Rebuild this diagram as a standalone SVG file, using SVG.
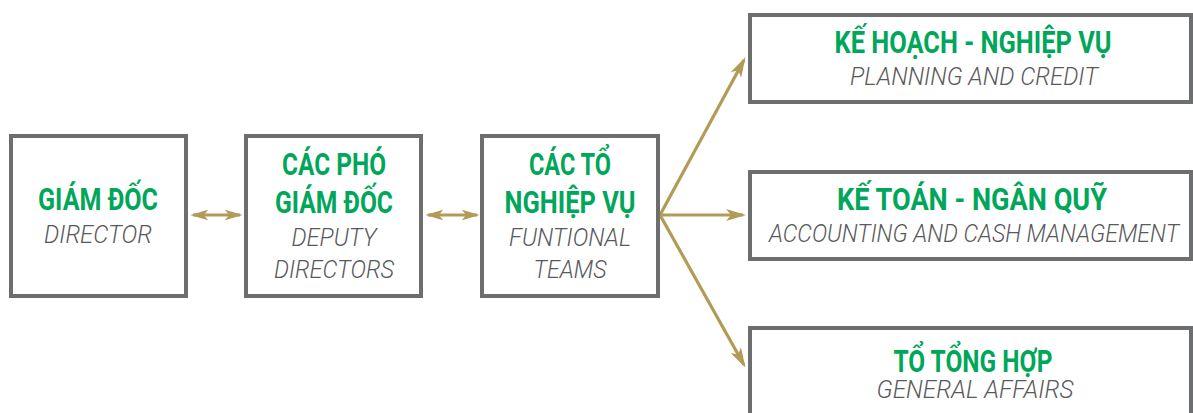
<svg xmlns="http://www.w3.org/2000/svg" width="1193" height="413" viewBox="0 0 1193 413">
  <style>
    .box { fill: #ffffff; stroke: #6d6e70; stroke-width: 4; }
    .title { font-family: Roboto, "Liberation Sans", sans-serif; font-weight: 700; font-size: 32px; fill: #00a65a; text-anchor: middle; }
    .sub { font-family: Roboto, "Liberation Sans", sans-serif; font-weight: 300; font-style: italic; font-size: 26px; fill: #58595b; text-anchor: middle; }
    .link { fill: none; stroke: #b29a57; stroke-width: 3.2; }
  </style>
  <defs>
    <marker id="head" viewBox="0 0 20 12" refX="17" refY="6" markerWidth="20" markerHeight="12" markerUnits="userSpaceOnUse" orient="auto-start-reverse">
      <path d="M0,0 L20,6 L0,12 L5,6 Z" fill="#b29a57"/>
    </marker>
    <marker id="headSmall" viewBox="0 0 20 12" refX="17" refY="6" markerWidth="18" markerHeight="12" markerUnits="userSpaceOnUse" orient="auto-start-reverse">
      <path d="M0,0 L20,6 L0,12 L5,6 Z" fill="#b29a57"/>
    </marker>
  </defs>

  <g id="connectors">
    <line class="link" x1="193" y1="215" x2="240" y2="215" marker-start="url(#headSmall)" marker-end="url(#headSmall)"/>
    <line class="link" x1="428" y1="215" x2="477" y2="215" marker-start="url(#headSmall)" marker-end="url(#headSmall)"/>
    <line class="link" x1="660" y1="215" x2="744" y2="60" marker-end="url(#head)"/>
    <line class="link" x1="660" y1="215" x2="743" y2="215" marker-end="url(#head)"/>
    <line class="link" x1="660" y1="215" x2="744" y2="365" marker-end="url(#head)"/>
  </g>

  <g id="director">
    <rect class="box" x="11" y="136" width="175" height="160"/>
    <text class="title" x="98" y="210" textLength="120" lengthAdjust="spacingAndGlyphs">GIÁM ĐỐC</text>
    <text class="sub" x="98" y="243" textLength="108" lengthAdjust="spacingAndGlyphs">DIRECTOR</text>
  </g>

  <g id="deputy-directors">
    <rect class="box" x="246" y="136" width="175" height="160"/>
    <text class="title" x="334" y="175" textLength="104" lengthAdjust="spacingAndGlyphs">CÁC PHÓ</text>
    <text class="title" x="334" y="213" textLength="118" lengthAdjust="spacingAndGlyphs">GIÁM ĐỐC</text>
    <text class="sub" x="334" y="246" textLength="85" lengthAdjust="spacingAndGlyphs">DEPUTY</text>
    <text class="sub" x="334" y="278" textLength="120" lengthAdjust="spacingAndGlyphs">DIRECTORS</text>
  </g>

  <g id="functional-teams">
    <rect class="box" x="482" y="136" width="176" height="160"/>
    <text class="title" x="570" y="175" textLength="82" lengthAdjust="spacingAndGlyphs">CÁC TỔ</text>
    <text class="title" x="570" y="213" textLength="131" lengthAdjust="spacingAndGlyphs">NGHIỆP VỤ</text>
    <text class="sub" x="570" y="246" textLength="122" lengthAdjust="spacingAndGlyphs">FUNTIONAL</text>
    <text class="sub" x="570" y="278" textLength="73" lengthAdjust="spacingAndGlyphs">TEAMS</text>
  </g>

  <g id="planning-credit">
    <rect class="box" x="750" y="15" width="441" height="87"/>
    <text class="title" x="973" y="53" textLength="277" lengthAdjust="spacingAndGlyphs">KẾ HOẠCH - NGHIỆP VỤ</text>
    <text class="sub" x="974" y="85" textLength="248" lengthAdjust="spacingAndGlyphs">PLANNING AND CREDIT</text>
  </g>

  <g id="accounting-cash">
    <rect class="box" x="750" y="172" width="441" height="87"/>
    <text class="title" x="972" y="210" textLength="270" lengthAdjust="spacingAndGlyphs">KẾ TOÁN - NGÂN QUỸ</text>
    <text class="sub" x="974" y="242" textLength="410" lengthAdjust="spacingAndGlyphs">ACCOUNTING AND CASH MANAGEMENT</text>
  </g>

  <g id="general-affairs">
    <rect class="box" x="750" y="328" width="441" height="100"/>
    <text class="title" x="973" y="372" textLength="159" lengthAdjust="spacingAndGlyphs">TỔ TỔNG HỢP</text>
    <text class="sub" x="975" y="398" textLength="197" lengthAdjust="spacingAndGlyphs">GENERAL AFFAIRS</text>
  </g>
</svg>
